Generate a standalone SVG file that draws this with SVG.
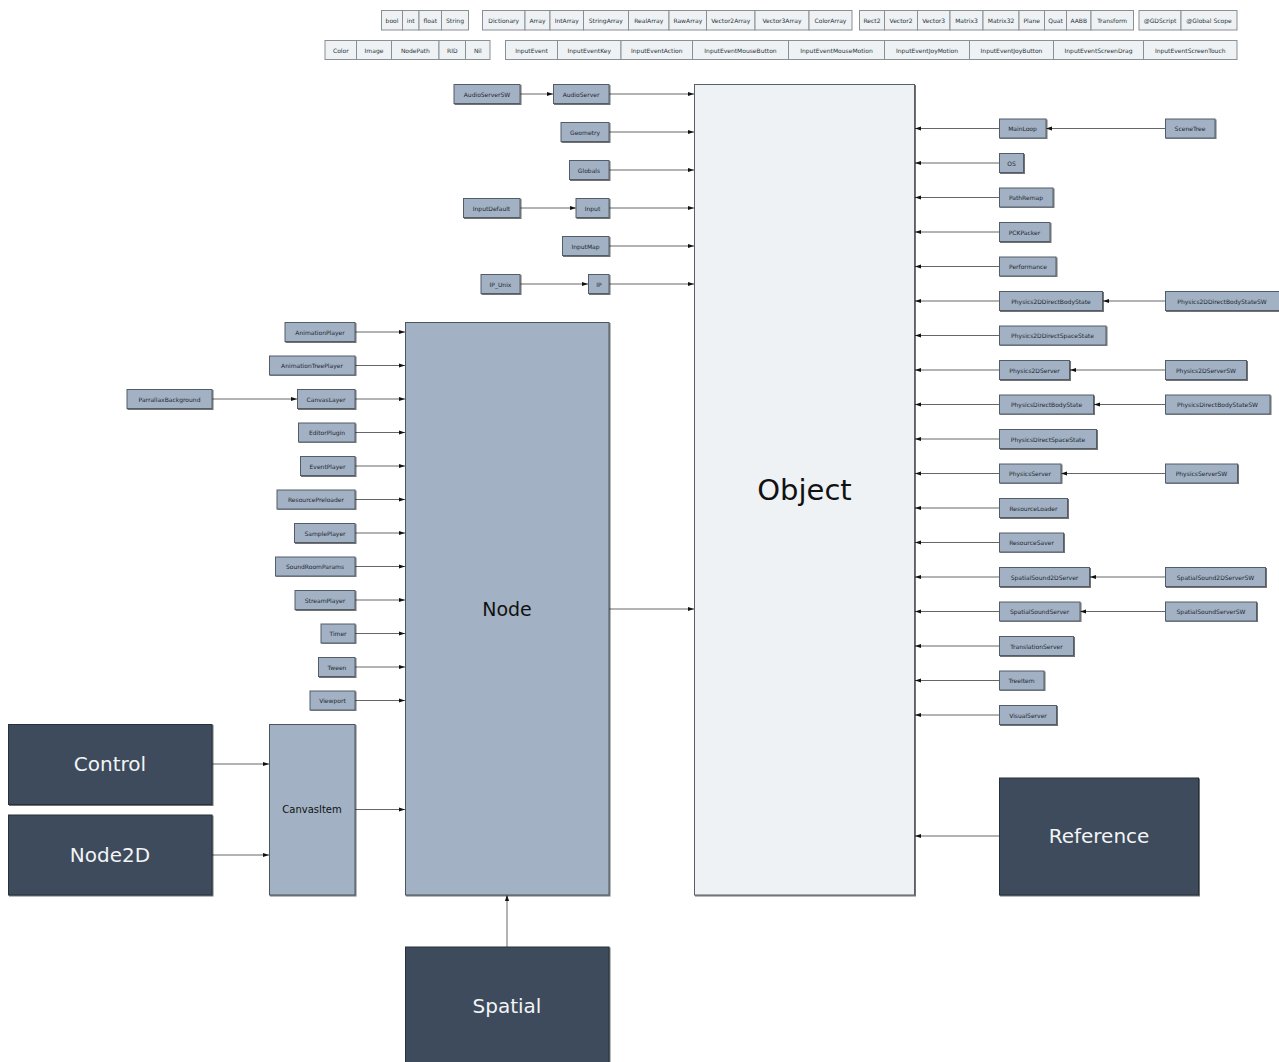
<svg xmlns="http://www.w3.org/2000/svg" width="1279" height="1062" viewBox="0 0 1279 1062">
  <defs>
    <marker id="ah" viewBox="0 0 6 6" refX="6" refY="3" markerWidth="6" markerHeight="6" orient="auto" markerUnits="userSpaceOnUse">
      <path d="M0,0.9 L6,3 L0,5.1 z" fill="#111"/>
    </marker>
    <!-- thin shadow along the right and bottom edge of each box -->
    <filter id="sh" x="-5%" y="-5%" width="110%" height="110%">
      <feOffset in="SourceAlpha" dx="1" dy="1" result="o"/>
      <feComponentTransfer in="o" result="s"><feFuncA type="linear" slope="0.55"/></feComponentTransfer>
      <feMerge><feMergeNode in="s"/><feMergeNode in="SourceGraphic"/></feMerge>
    </filter>
    <style>
      text { font-family: "DejaVu Sans", "Liberation Sans", sans-serif; text-anchor: middle; dominant-baseline: central; }
      .cell rect { fill: #eef2f5; stroke: #8a8f94; stroke-width: 1; }
      .cell text { font-size: 6px; fill: #2b3238; }
      .cls rect { fill: #a2b1c3; stroke: #525d69; stroke-width: 1; filter: url(#sh); }
      .cls text { font-size: 6px; fill: #1e2833; }
      .root rect { fill: #eef2f5; stroke: #5a5f65; stroke-width: 1; filter: url(#sh); }
      .root text { font-size: 29px; fill: #111; }
      .base rect { fill: #a2b1c3; stroke: #4a545e; stroke-width: 1; filter: url(#sh); }
      .base text { font-size: 19px; fill: #111; }
      .mid text { font-size: 10px; }
      .dark rect { fill: #3c4b5b; stroke: #27313b; stroke-width: 1; filter: url(#sh); }
      .dark text { font-size: 20px; fill: #f2f4f6; }
      #edges line { stroke: #666; stroke-width: 1; marker-end: url(#ah); }
    </style>
  </defs>
  <rect width="1279" height="1062" fill="#fff"/>

  <!-- built-in types, first row -->
  <g id="t-bool" class="cell"><rect x="381.5" y="10.5" width="21" height="19.5"/><text x="392" y="20.5">bool</text></g>
  <g id="t-int" class="cell"><rect x="402.5" y="10.5" width="16.5" height="19.5"/><text x="410.7" y="20.5">int</text></g>
  <g id="t-float" class="cell"><rect x="419" y="10.5" width="22.5" height="19.5"/><text x="430.3" y="20.5">float</text></g>
  <g id="t-String" class="cell"><rect x="441.5" y="10.5" width="27" height="19.5"/><text x="455" y="20.5">String</text></g>

  <g id="t-Dictionary" class="cell"><rect x="482.5" y="10.5" width="42.5" height="19.5"/><text x="503.7" y="20.5">Dictionary</text></g>
  <g id="t-Array" class="cell"><rect x="525" y="10.5" width="25" height="19.5"/><text x="537.5" y="20.5">Array</text></g>
  <g id="t-IntArray" class="cell"><rect x="550" y="10.5" width="33.5" height="19.5"/><text x="566.7" y="20.5">IntArray</text></g>
  <g id="t-StringArray" class="cell"><rect x="583.5" y="10.5" width="45" height="19.5"/><text x="605.8" y="20.5">StringArray</text></g>
  <g id="t-RealArray" class="cell"><rect x="628.5" y="10.5" width="40.5" height="19.5"/><text x="648.7" y="20.5">RealArray</text></g>
  <g id="t-RawArray" class="cell"><rect x="669" y="10.5" width="37.5" height="19.5"/><text x="687.8" y="20.5">RawArray</text></g>
  <g id="t-Vector2Array" class="cell"><rect x="706.5" y="10.5" width="48.5" height="19.5"/><text x="730.8" y="20.5">Vector2Array</text></g>
  <g id="t-Vector3Array" class="cell"><rect x="755" y="10.5" width="54" height="19.5"/><text x="782" y="20.5">Vector3Array</text></g>
  <g id="t-ColorArray" class="cell"><rect x="809" y="10.5" width="43" height="19.5"/><text x="830.5" y="20.5">ColorArray</text></g>

  <g id="t-Rect2" class="cell"><rect x="859.5" y="10.5" width="25" height="19.5"/><text x="872" y="20.5">Rect2</text></g>
  <g id="t-Vector2" class="cell"><rect x="884.5" y="10.5" width="33" height="19.5"/><text x="901" y="20.5">Vector2</text></g>
  <g id="t-Vector3" class="cell"><rect x="917.5" y="10.5" width="32.5" height="19.5"/><text x="933.7" y="20.5">Vector3</text></g>
  <g id="t-Matrix3" class="cell"><rect x="950" y="10.5" width="33" height="19.5"/><text x="966.5" y="20.5">Matrix3</text></g>
  <g id="t-Matrix32" class="cell"><rect x="983" y="10.5" width="36" height="19.5"/><text x="1001" y="20.5">Matrix32</text></g>
  <g id="t-Plane" class="cell"><rect x="1019" y="10.5" width="25.5" height="19.5"/><text x="1031.7" y="20.5">Plane</text></g>
  <g id="t-Quat" class="cell"><rect x="1044.5" y="10.5" width="22" height="19.5"/><text x="1055.5" y="20.5">Quat</text></g>
  <g id="t-AABB" class="cell"><rect x="1066.5" y="10.5" width="24.5" height="19.5"/><text x="1078.8" y="20.5">AABB</text></g>
  <g id="t-Transform" class="cell"><rect x="1091" y="10.5" width="42.5" height="19.5"/><text x="1112.2" y="20.5">Transform</text></g>

  <g id="t-GDScript" class="cell"><rect x="1139" y="10.5" width="42" height="19.5"/><text x="1160" y="20.5">@GDScript</text></g>
  <g id="t-GlobalScope" class="cell"><rect x="1181" y="10.5" width="56" height="19.5"/><text x="1209" y="20.5">@Global Scope</text></g>

  <!-- built-in types, second row -->
  <g id="t-Color" class="cell"><rect x="325" y="40.5" width="31.5" height="19"/><text x="340.8" y="50.2">Color</text></g>
  <g id="t-Image" class="cell"><rect x="356.5" y="40.5" width="35" height="19"/><text x="374" y="50.2">Image</text></g>
  <g id="t-NodePath" class="cell"><rect x="391.5" y="40.5" width="47.5" height="19"/><text x="415.3" y="50.2">NodePath</text></g>
  <g id="t-RID" class="cell"><rect x="439" y="40.5" width="26.5" height="19"/><text x="452.3" y="50.2">RID</text></g>
  <g id="t-Nil" class="cell"><rect x="465.5" y="40.5" width="24.5" height="19"/><text x="477.8" y="50.2">Nil</text></g>

  <g id="t-InputEvent" class="cell"><rect x="505.5" y="40.5" width="52" height="19"/><text x="531.5" y="50.2">InputEvent</text></g>
  <g id="t-InputEventKey" class="cell"><rect x="557.5" y="40.5" width="63.5" height="19"/><text x="589.3" y="50.2">InputEventKey</text></g>
  <g id="t-InputEventAction" class="cell"><rect x="621" y="40.5" width="71.5" height="19"/><text x="656.8" y="50.2">InputEventAction</text></g>
  <g id="t-InputEventMouseButton" class="cell"><rect x="692.5" y="40.5" width="96" height="19"/><text x="740.5" y="50.2">InputEventMouseButton</text></g>
  <g id="t-InputEventMouseMotion" class="cell"><rect x="788.5" y="40.5" width="96" height="19"/><text x="836.5" y="50.2">InputEventMouseMotion</text></g>
  <g id="t-InputEventJoyMotion" class="cell"><rect x="884.5" y="40.5" width="85" height="19"/><text x="927" y="50.2">InputEventJoyMotion</text></g>
  <g id="t-InputEventJoyButton" class="cell"><rect x="969.5" y="40.5" width="84" height="19"/><text x="1011.5" y="50.2">InputEventJoyButton</text></g>
  <g id="t-InputEventScreenDrag" class="cell"><rect x="1053.5" y="40.5" width="90" height="19"/><text x="1098.5" y="50.2">InputEventScreenDrag</text></g>
  <g id="t-InputEventScreenTouch" class="cell"><rect x="1143.5" y="40.5" width="93.5" height="19"/><text x="1190.2" y="50.2">InputEventScreenTouch</text></g>

  <!-- connectors -->
  <g id="edges">
    <!-- singletons into Object -->
    <line x1="520" y1="94" x2="553" y2="94"/>
    <line x1="609" y1="94" x2="694" y2="94"/>
    <line x1="609" y1="132" x2="694" y2="132"/>
    <line x1="609" y1="170" x2="694" y2="170"/>
    <line x1="520" y1="208" x2="576" y2="208"/>
    <line x1="609" y1="208" x2="694" y2="208"/>
    <line x1="609" y1="246" x2="694" y2="246"/>
    <line x1="520" y1="284" x2="588" y2="284"/>
    <line x1="609" y1="284" x2="694" y2="284"/>
    <line x1="609" y1="609" x2="694" y2="609"/>
    <!-- Node subclasses -->
    <line x1="355" y1="332" x2="405" y2="332"/>
    <line x1="355" y1="365.5" x2="405" y2="365.5"/>
    <line x1="212" y1="399" x2="297" y2="399"/>
    <line x1="355" y1="399" x2="405" y2="399"/>
    <line x1="355" y1="432.5" x2="405" y2="432.5"/>
    <line x1="355" y1="466" x2="405" y2="466"/>
    <line x1="355" y1="499.5" x2="405" y2="499.5"/>
    <line x1="355" y1="533" x2="405" y2="533"/>
    <line x1="355" y1="566.5" x2="405" y2="566.5"/>
    <line x1="355" y1="600" x2="405" y2="600"/>
    <line x1="355" y1="633.5" x2="405" y2="633.5"/>
    <line x1="355" y1="667" x2="405" y2="667"/>
    <line x1="355" y1="700.5" x2="405" y2="700.5"/>
    <line x1="355" y1="809.5" x2="405" y2="809.5"/>
    <line x1="212" y1="764" x2="269" y2="764"/>
    <line x1="212" y1="855" x2="269" y2="855"/>
    <line x1="507" y1="947" x2="507" y2="895"/>
    <!-- classes on the right into Object -->
    <line x1="1165" y1="128.5" x2="1046" y2="128.5"/>
    <line x1="999" y1="128.5" x2="915" y2="128.5"/>
    <line x1="999" y1="163" x2="915" y2="163"/>
    <line x1="999" y1="197.5" x2="915" y2="197.5"/>
    <line x1="999" y1="232" x2="915" y2="232"/>
    <line x1="999" y1="266.5" x2="915" y2="266.5"/>
    <line x1="1165" y1="301" x2="1103" y2="301"/>
    <line x1="999" y1="301" x2="915" y2="301"/>
    <line x1="999" y1="335.5" x2="915" y2="335.5"/>
    <line x1="1165" y1="370" x2="1070" y2="370"/>
    <line x1="999" y1="370" x2="915" y2="370"/>
    <line x1="1165" y1="404.5" x2="1094" y2="404.5"/>
    <line x1="999" y1="404.5" x2="915" y2="404.5"/>
    <line x1="999" y1="439" x2="915" y2="439"/>
    <line x1="1165" y1="473.5" x2="1061" y2="473.5"/>
    <line x1="999" y1="473.5" x2="915" y2="473.5"/>
    <line x1="999" y1="508" x2="915" y2="508"/>
    <line x1="999" y1="542.5" x2="915" y2="542.5"/>
    <line x1="1165" y1="577" x2="1090" y2="577"/>
    <line x1="999" y1="577" x2="915" y2="577"/>
    <line x1="1165" y1="611.5" x2="1080" y2="611.5"/>
    <line x1="999" y1="611.5" x2="915" y2="611.5"/>
    <line x1="999" y1="646" x2="915" y2="646"/>
    <line x1="999" y1="680.5" x2="915" y2="680.5"/>
    <line x1="999" y1="715" x2="915" y2="715"/>
    <line x1="999" y1="836" x2="915" y2="836"/>
  </g>

  <!-- root and base classes -->
  <g id="Object" class="root"><rect x="694.5" y="84.5" width="220" height="810.5"/><text x="804.5" y="490">Object</text></g>
  <g id="Node" class="base"><rect x="405.5" y="322.5" width="203.5" height="572.5"/><text x="507" y="609">Node</text></g>
  <g id="CanvasItem" class="base mid"><rect x="269.5" y="724.5" width="85.5" height="170.5"/><text x="312" y="809.5">CanvasItem</text></g>

  <g id="Control" class="dark"><rect x="8.5" y="724.5" width="203.5" height="80"/><text x="110" y="764">Control</text></g>
  <g id="Node2D" class="dark"><rect x="8.5" y="815" width="203.5" height="80"/><text x="110" y="855">Node2D</text></g>
  <g id="Spatial" class="dark"><rect x="405.5" y="947" width="203.5" height="125"/><text x="507" y="1006">Spatial</text></g>
  <g id="Reference" class="dark"><rect x="999.5" y="778" width="199" height="117"/><text x="1099" y="836">Reference</text></g>

  <!-- singletons left of Object -->
  <g id="AudioServerSW" class="cls"><rect x="454" y="84.5" width="66" height="19"/><text x="487" y="94">AudioServerSW</text></g>
  <g id="AudioServer" class="cls"><rect x="553.5" y="84.5" width="55.5" height="19"/><text x="581" y="94">AudioServer</text></g>
  <g id="Geometry" class="cls"><rect x="561" y="122.5" width="48" height="19"/><text x="585" y="132">Geometry</text></g>
  <g id="Globals" class="cls"><rect x="569.5" y="160.5" width="39.5" height="19"/><text x="589" y="170">Globals</text></g>
  <g id="InputDefault" class="cls"><rect x="463.5" y="198.5" width="56.5" height="19"/><text x="491.5" y="208">InputDefault</text></g>
  <g id="Input" class="cls"><rect x="576" y="198.5" width="33" height="19"/><text x="592.5" y="208">Input</text></g>
  <g id="InputMap" class="cls"><rect x="562.5" y="236.5" width="46.5" height="19"/><text x="585.5" y="246">InputMap</text></g>
  <g id="IP_Unix" class="cls"><rect x="481" y="274.5" width="39" height="19"/><text x="500.5" y="284">IP_Unix</text></g>
  <g id="IP" class="cls"><rect x="588.5" y="274.5" width="20.5" height="19"/><text x="599" y="284">IP</text></g>

  <!-- Node subclasses -->
  <g id="AnimationPlayer" class="cls"><rect x="285" y="322.5" width="70" height="19"/><text x="320" y="332">AnimationPlayer</text></g>
  <g id="AnimationTreePlayer" class="cls"><rect x="269.5" y="356" width="85.5" height="19"/><text x="312" y="365.5">AnimationTreePlayer</text></g>
  <g id="ParrallaxBackground" class="cls"><rect x="127" y="389.5" width="85" height="19"/><text x="169.5" y="399">ParrallaxBackground</text></g>
  <g id="CanvasLayer" class="cls"><rect x="297.5" y="389.5" width="57.5" height="19"/><text x="326" y="399">CanvasLayer</text></g>
  <g id="EditorPlugin" class="cls"><rect x="298.5" y="423" width="56.5" height="19"/><text x="327" y="432.5">EditorPlugin</text></g>
  <g id="EventPlayer" class="cls"><rect x="300.5" y="456.5" width="54.5" height="19"/><text x="327.5" y="466">EventPlayer</text></g>
  <g id="ResourcePreloader" class="cls"><rect x="277" y="490" width="78" height="19"/><text x="316" y="499.5">ResourcePreloader</text></g>
  <g id="SamplePlayer" class="cls"><rect x="294.5" y="523.5" width="60.5" height="19"/><text x="325" y="533">SamplePlayer</text></g>
  <g id="SoundRoomParams" class="cls"><rect x="275.5" y="557" width="79.5" height="19"/><text x="315" y="566.5">SoundRoomParams</text></g>
  <g id="StreamPlayer" class="cls"><rect x="295" y="590.5" width="60" height="19"/><text x="325" y="600">StreamPlayer</text></g>
  <g id="Timer" class="cls"><rect x="321" y="624" width="34" height="19"/><text x="338" y="633.5">Timer</text></g>
  <g id="Tween" class="cls"><rect x="318.5" y="657.5" width="36.5" height="19"/><text x="337" y="667">Tween</text></g>
  <g id="Viewport" class="cls"><rect x="310" y="691" width="45" height="19"/><text x="332.5" y="700.5">Viewport</text></g>

  <!-- classes right of Object -->
  <g id="MainLoop" class="cls"><rect x="999.5" y="119" width="46.5" height="19"/><text x="1022.5" y="128.5">MainLoop</text></g>
  <g id="SceneTree" class="cls"><rect x="1165.5" y="119" width="49.5" height="19"/><text x="1190" y="128.5">SceneTree</text></g>
  <g id="OS" class="cls"><rect x="999.5" y="153.5" width="24" height="19"/><text x="1011.5" y="163">OS</text></g>
  <g id="PathRemap" class="cls"><rect x="999.5" y="188" width="53.5" height="19"/><text x="1026" y="197.5">PathRemap</text></g>
  <g id="PCKPacker" class="cls"><rect x="999.5" y="222.5" width="50.5" height="19"/><text x="1024.5" y="232">PCKPacker</text></g>
  <g id="Performance" class="cls"><rect x="999.5" y="257" width="56.5" height="19"/><text x="1028" y="266.5">Performance</text></g>
  <g id="Physics2DDirectBodyState" class="cls"><rect x="999.5" y="291.5" width="103" height="19"/><text x="1051" y="301">Physics2DDirectBodyState</text></g>
  <g id="Physics2DDirectBodyStateSW" class="cls"><rect x="1165.5" y="291.5" width="114" height="19"/><text x="1222" y="301">Physics2DDirectBodyStateSW</text></g>
  <g id="Physics2DDirectSpaceState" class="cls"><rect x="999.5" y="326" width="106.5" height="19"/><text x="1052.5" y="335.5">Physics2DDirectSpaceState</text></g>
  <g id="Physics2DServer" class="cls"><rect x="999.5" y="360.5" width="70" height="19"/><text x="1034.5" y="370">Physics2DServer</text></g>
  <g id="Physics2DServerSW" class="cls"><rect x="1165.5" y="360.5" width="81" height="19"/><text x="1206" y="370">Physics2DServerSW</text></g>
  <g id="PhysicsDirectBodyState" class="cls"><rect x="999.5" y="395" width="94" height="19"/><text x="1046.5" y="404.5">PhysicsDirectBodyState</text></g>
  <g id="PhysicsDirectBodyStateSW" class="cls"><rect x="1165.5" y="395" width="104.5" height="19"/><text x="1217.5" y="404.5">PhysicsDirectBodyStateSW</text></g>
  <g id="PhysicsDirectSpaceState" class="cls"><rect x="999.5" y="429.5" width="97" height="19"/><text x="1048" y="439">PhysicsDirectSpaceState</text></g>
  <g id="PhysicsServer" class="cls"><rect x="999.5" y="464" width="61.5" height="19"/><text x="1030" y="473.5">PhysicsServer</text></g>
  <g id="PhysicsServerSW" class="cls"><rect x="1165.5" y="464" width="72" height="19"/><text x="1201.5" y="473.5">PhysicsServerSW</text></g>
  <g id="ResourceLoader" class="cls"><rect x="999.5" y="498.5" width="68" height="19"/><text x="1033.5" y="508">ResourceLoader</text></g>
  <g id="ResourceSaver" class="cls"><rect x="999.5" y="533" width="64" height="19"/><text x="1031.5" y="542.5">ResourceSaver</text></g>
  <g id="SpatialSound2DServer" class="cls"><rect x="999.5" y="567.5" width="90" height="19"/><text x="1044.5" y="577">SpatialSound2DServer</text></g>
  <g id="SpatialSound2DServerSW" class="cls"><rect x="1165.5" y="567.5" width="100" height="19"/><text x="1215.5" y="577">SpatialSound2DServerSW</text></g>
  <g id="SpatialSoundServer" class="cls"><rect x="999.5" y="602" width="80.5" height="19"/><text x="1039.5" y="611.5">SpatialSoundServer</text></g>
  <g id="SpatialSoundServerSW" class="cls"><rect x="1165.5" y="602" width="91" height="19"/><text x="1211" y="611.5">SpatialSoundServerSW</text></g>
  <g id="TranslationServer" class="cls"><rect x="999.5" y="636.5" width="74" height="19"/><text x="1036.5" y="646">TranslationServer</text></g>
  <g id="TreeItem" class="cls"><rect x="999.5" y="671" width="44.5" height="19"/><text x="1021.5" y="680.5">TreeItem</text></g>
  <g id="VisualServer" class="cls"><rect x="999.5" y="705.5" width="57" height="19"/><text x="1028" y="715">VisualServer</text></g>
</svg>
